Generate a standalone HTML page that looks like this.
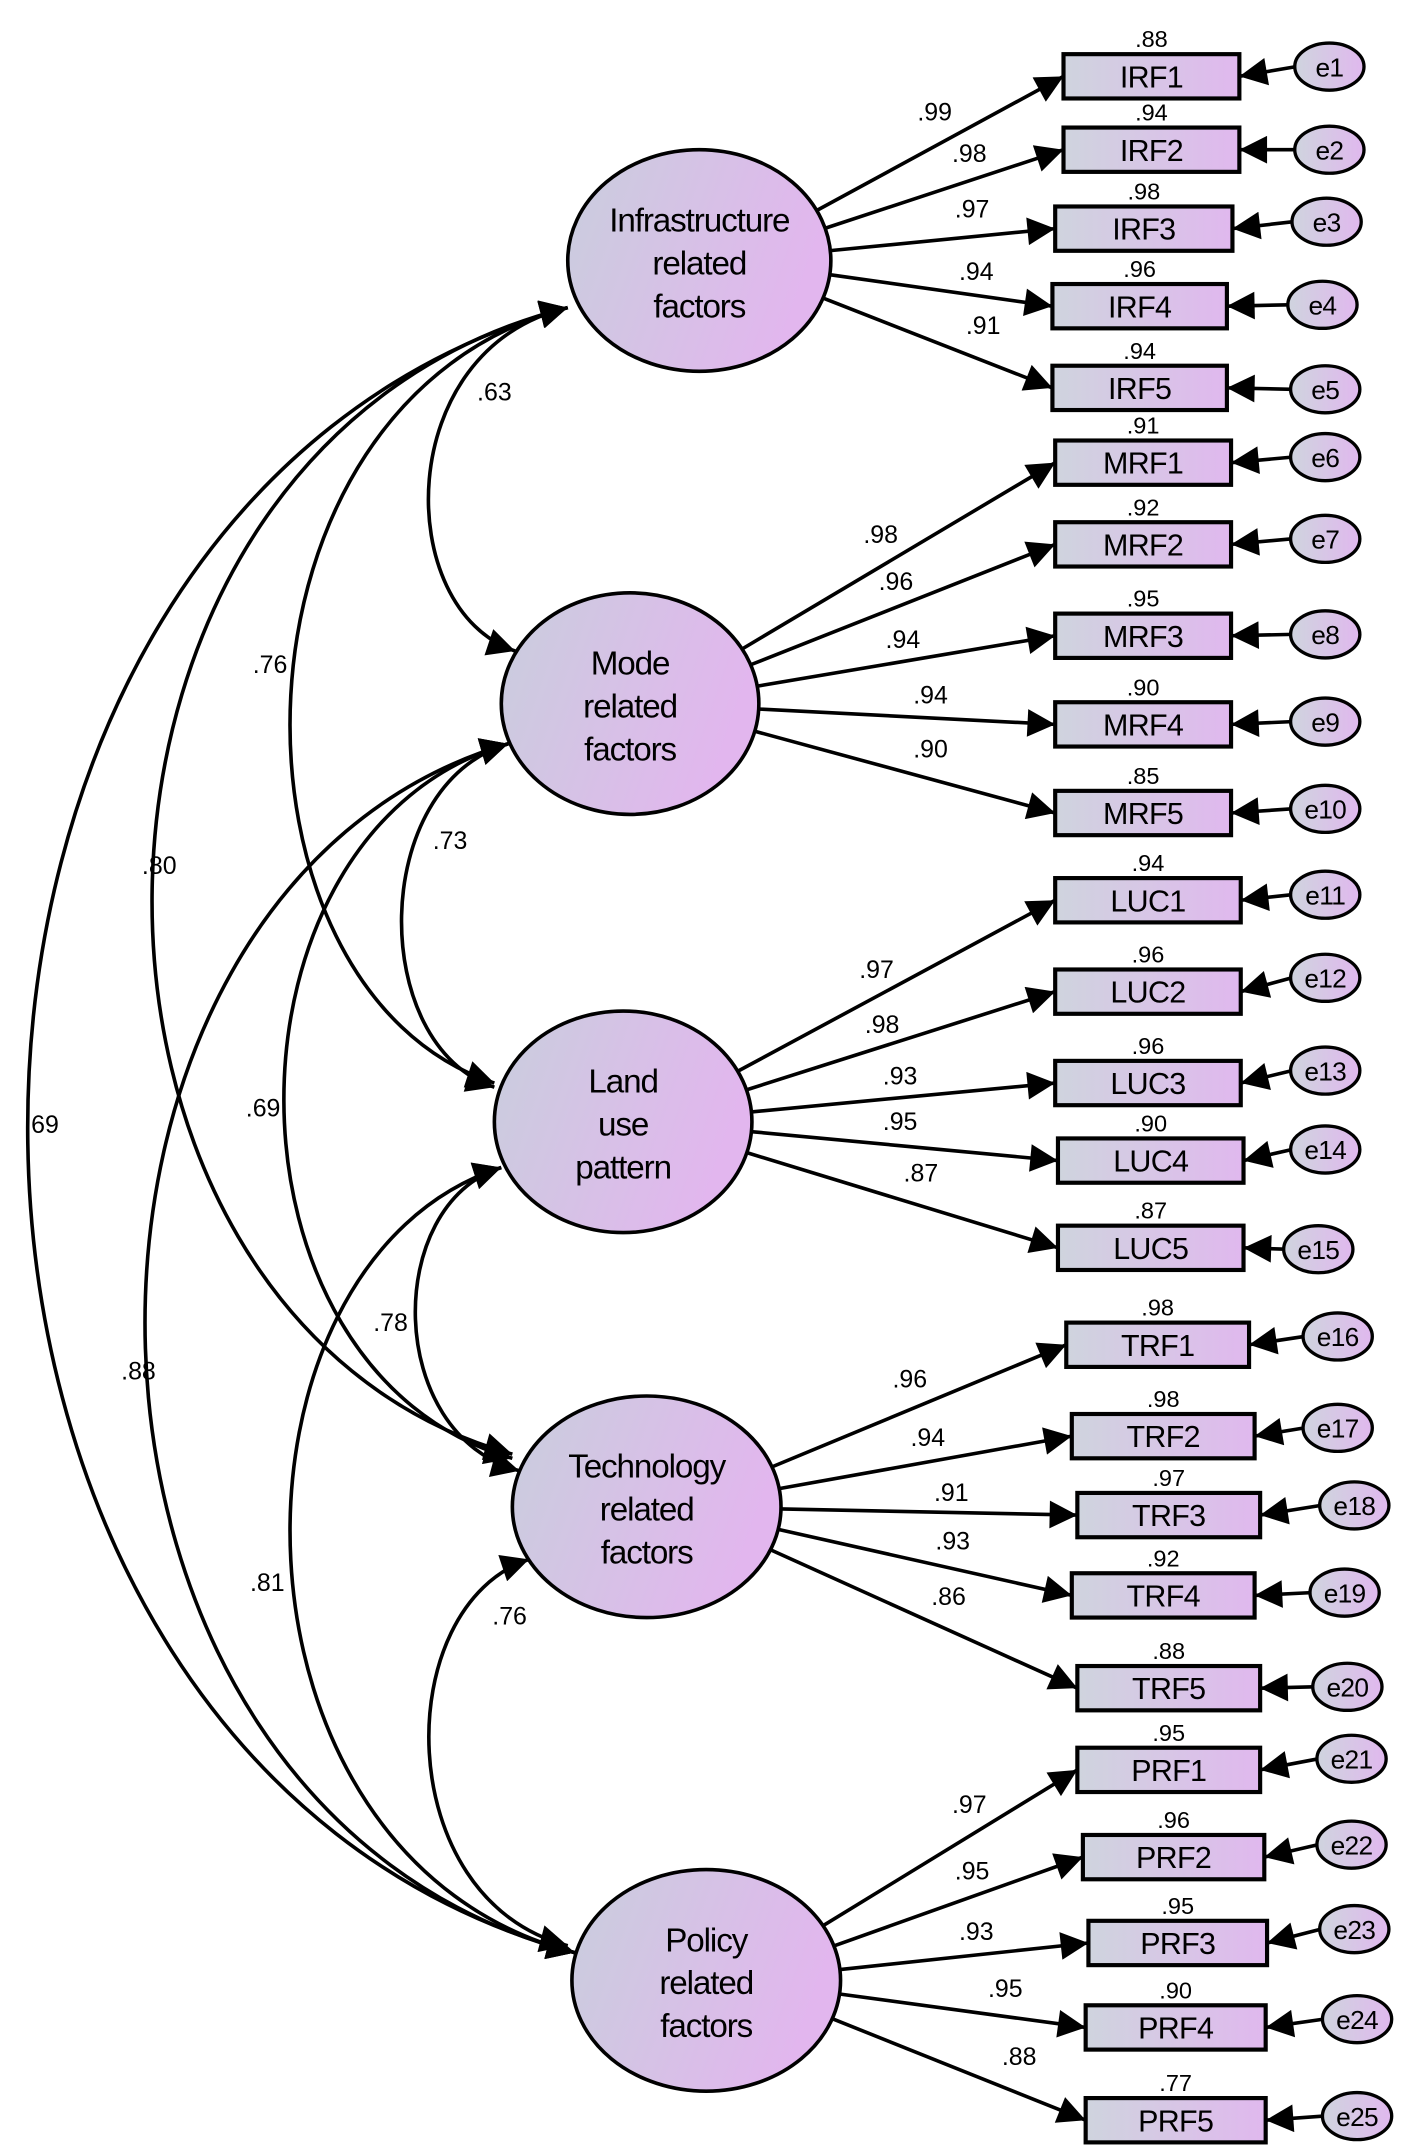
<!DOCTYPE html>
<html><head><meta charset="utf-8"><style>html,body{margin:0;padding:0;background:#fff}svg{display:block}</style></head>
<body>
<svg id="s" xmlns="http://www.w3.org/2000/svg" width="1418" height="2155" viewBox="0 0 1024 1556" font-family="Liberation Sans, Arial, sans-serif">
<defs>
<linearGradient id="g" x1="0" y1="0" x2="1" y2="0.3"><stop offset="0" stop-color="#c9cedd"/><stop offset="1" stop-color="#e2b6ee"/></linearGradient>
<linearGradient id="gb" x1="0" y1="0" x2="1" y2="0"><stop offset="0" stop-color="#cfd4de"/><stop offset="1" stop-color="#e0b8ee"/></linearGradient>
<marker id="ab" viewBox="0 0 10 10" refX="10" refY="5" markerWidth="28" markerHeight="20" markerUnits="userSpaceOnUse" orient="auto-start-reverse"><path d="M0,0L10,5L0,10z"/></marker>
</defs>
<g id="cov" fill="none" stroke="#000" stroke-width="2.6"></g>
<g id="main"></g>
</svg>
<script>
var NS="http://www.w3.org/2000/svg";
var main=document.getElementById('main'),cov=document.getElementById('cov');
function el(t,a,p,txt){var e=document.createElementNS(NS,t);for(var k in a)e.setAttribute(k,a[k]);if(txt!=null)e.textContent=txt;(p||main).appendChild(e);return e;}
var L=[
{c:[505,188],r:[95,80],t:["Infrastructure","related","factors"]},
{c:[455,508],r:[93,80],t:["Mode","related","factors"]},
{c:[450,810],r:[93,80],t:["Land","use","pattern"]},
{c:[467,1088],r:[97,80],t:["Technology","related","factors"]},
{c:[510,1430],r:[97,80],t:["Policy","related","factors"]}];
var B=[
["IRF1",768,895,39],["IRF2",768,895,92],["IRF3",762,890,149],["IRF4",760,886,205],["IRF5",760,886,264],
["MRF1",762,889,318],["MRF2",762,889,377],["MRF3",762,889,443],["MRF4",762,889,507],["MRF5",762,889,571],
["LUC1",762,896,634],["LUC2",762,896,700],["LUC3",762,896,766],["LUC4",764,898,822],["LUC5",764,898,885],
["TRF1",770,902,955],["TRF2",774,906,1021],["TRF3",778,910,1078],["TRF4",774,906,1136],["TRF5",778,910,1203],
["PRF1",778,910,1262],["PRF2",782,913,1325],["PRF3",786,915,1387],["PRF4",784,914,1448],["PRF5",784,914,1515]];
var E=[[960,48],[960,108],[958,160],[955,220],[957,281],[957,330],[957,389],[957,458],[957,521],[957,584],[957,646],[957,706],[957,773],[957,830],[952,902],[966,965],[966,1031],[978,1087],[971,1150],[973,1218],[976,1270],[976,1332],[978,1393],[980,1458],[980,1528]];
var R2=[".88",".94",".98",".96",".94",".91",".92",".95",".90",".85",".94",".96",".96",".90",".87",".98",".98",".97",".92",".88",".95",".96",".95",".90",".77"];
var LD=[[".99",675,87],[".98",700,117],[".97",702,157],[".94",705,202],[".91",710,241],
[".98",636,392],[".96",647,426],[".94",652,468],[".94",672,508],[".90",672,547],
[".97",633,706],[".98",637,746],[".93",650,783],[".95",650,816],[".87",665,853],
[".96",657,1002],[".94",670,1044],[".91",687,1084],[".93",688,1119],[".86",685,1159],
[".97",700,1309],[".95",702,1357],[".93",705,1401],[".95",726,1442],[".88",736,1491]];
var C=[[[410,222],[372,470],310,".63",357,289],
[[410,222],[357,782],210,".76",195,486],
[[410,222],[370,1050],110,".80",115,631],
[[410,222],[415,1410],20,".69",30,818],
[[367,537],[357,785],290,".73",325,613],
[[367,537],[370,1053],205,".69",190,806],
[[367,537],[415,1410],105,".88",100,996],
[[362,843],[375,1062],300,".78",282,961],
[[362,843],[415,1410],210,".81",193,1149],
[[382,1126],[410,1405],310,".76",368,1173]];
C.forEach(function(c){var p=c[0],q=c[1];var X=(c[2]-(p[0]+q[0])/8)/0.75;
el('path',{d:'M'+p[0]+','+p[1]+'C'+X+','+(p[1]+(q[1]-p[1])*0.12)+' '+X+','+(q[1]-(q[1]-p[1])*0.12)+' '+q[0]+','+q[1],'marker-start':'url(#ab)','marker-end':'url(#ab)'},cov);
el('text',{x:c[4],y:c[5],'font-size':18,'text-anchor':'middle'},main,c[3]);});
L.forEach(function(l){el('ellipse',{cx:l.c[0],cy:l.c[1],rx:l.r[0],ry:l.r[1],fill:'url(#g)',stroke:'#000','stroke-width':2.6});
l.t.forEach(function(s,i){el('text',{x:l.c[0],y:l.c[1]-21+i*31,'font-size':24,'text-anchor':'middle','letter-spacing':'-0.8'},main,s);});});
B.forEach(function(b,i){var h=32,y=b[3],cy=y+h/2,l=L[Math.floor(i/5)];
var dx=b[1]-l.c[0],dy=cy-l.c[1],a=Math.atan2(dy,dx),sx=l.c[0]+l.r[0]*Math.cos(a),sy=l.c[1]+l.r[1]*Math.sin(a);
el('line',{x1:sx,y1:sy,x2:b[1],y2:cy,stroke:'#000','stroke-width':2.6,'marker-end':'url(#ab)'});
el('rect',{x:b[1],y:y,width:b[2]-b[1],height:h,fill:'url(#gb)',stroke:'#000','stroke-width':3});
el('text',{x:(b[1]+b[2])/2,y:cy+8,'font-size':22,'text-anchor':'middle','letter-spacing':'-0.5'},main,b[0]);
el('text',{x:(b[1]+b[2])/2,y:y-5,'font-size':17,'text-anchor':'middle'},main,R2[i]);
var e=E[i];el('line',{x1:e[0]-24,y1:e[1],x2:b[2],y2:cy,stroke:'#000','stroke-width':2.6,'marker-end':'url(#ab)'});
el('ellipse',{cx:e[0],cy:e[1],rx:25,ry:17,fill:'url(#gb)',stroke:'#000','stroke-width':2.4});
el('text',{x:e[0],y:e[1]+7,'font-size':19,'text-anchor':'middle','letter-spacing':'-0.5'},main,'e'+(i+1));
var d=LD[i];el('text',{x:d[1],y:d[2],'font-size':18,'text-anchor':'middle'},main,d[0]);});
</script>
</body></html>
